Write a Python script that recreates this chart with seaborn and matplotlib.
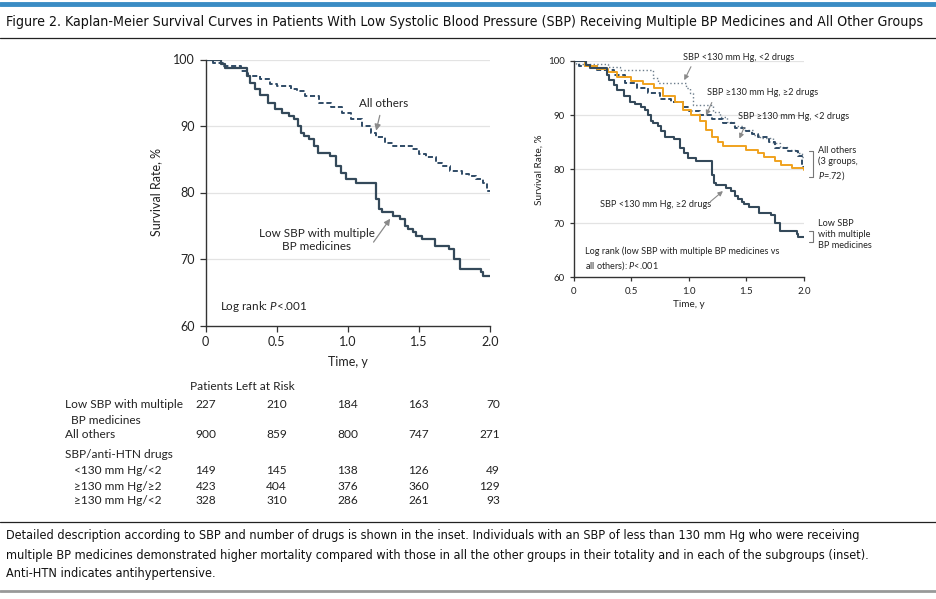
import numpy as np
import pandas as pd
import matplotlib
matplotlib.use("Agg")
import matplotlib.pyplot as plt
import seaborn as sns
from matplotlib.lines import Line2D

# ---------------- data ----------------
low_t = [0, 0.11, 0.14, 0.29, 0.31, 0.35, 0.38, 0.44, 0.49, 0.535, 0.59, 0.62, 0.65, 0.67, 0.69, 0.73, 0.76, 0.79,
         0.875, 0.92, 0.955, 0.99, 1.06, 1.19, 1.20, 1.22, 1.24, 1.32, 1.37, 1.40, 1.425, 1.46, 1.48, 1.52, 1.61,
         1.71, 1.75, 1.79, 1.94, 1.95, 2.0]
low_s = [100, 99.3, 98.7, 97.5, 96.5, 95.5, 94.7, 93.5, 92.5, 92.0, 91.5, 91.0, 90.0, 89.0, 88.5, 88.0, 87.0, 86.0,
         85.5, 84.0, 83.0, 82.0, 81.5, 81.5, 79.0, 77.5, 77.0, 76.5, 76.0, 75.0, 74.5, 74.0, 73.5, 73.0, 72.0,
         71.5, 70.0, 68.5, 68.0, 67.5, 67.5]

oth_t = [0, 0.05, 0.13, 0.25, 0.30, 0.38, 0.45, 0.50, 0.60, 0.64, 0.70, 0.80, 0.88, 0.96, 1.02, 1.10, 1.16, 1.20,
         1.26, 1.32, 1.45, 1.50, 1.55, 1.62, 1.66, 1.72, 1.80, 1.85, 1.90, 1.95, 1.98, 2.0]
oth_s = [100, 99.5, 99.0, 98.3, 97.5, 97.0, 96.3, 96.0, 95.5, 95.3, 94.5, 93.5, 92.8, 92.0, 91.0, 90.0, 89.0, 88.3,
         87.5, 87.0, 86.5, 85.8, 85.3, 84.5, 84.0, 83.3, 82.8, 82.5, 82.0, 81.5, 80.3, 80.3]

lt2_t = [0, 0.02, 0.30, 0.40, 0.69, 0.73, 0.95, 0.98, 1.01, 1.04, 1.18, 1.21, 1.27, 1.33, 1.39, 1.47, 1.56, 1.62,
         1.73, 1.79, 1.85, 1.94, 1.98, 2.0]
lt2_s = [100, 99.5, 98.8, 98.3, 96.8, 95.9, 95.9, 95.0, 94.0, 91.9, 91.9, 90.6, 89.7, 88.8, 87.9, 87.3, 86.3, 85.7,
         84.8, 84.2, 83.6, 83.0, 82.3, 82.3]

ge2_t = [0, 0.05, 0.20, 0.35, 0.45, 0.55, 0.65, 0.75, 0.85, 0.95, 1.00, 1.10, 1.20, 1.30, 1.40, 1.50, 1.55, 1.60,
         1.70, 1.75, 1.85, 1.95, 1.98, 2.0]
ge2_s = [100, 99.0, 98.3, 97.5, 96.0, 95.0, 94.0, 93.0, 92.5, 91.5, 90.7, 90.0, 89.3, 88.5, 87.7, 87.0, 86.5, 86.0,
         85.0, 84.0, 83.3, 82.5, 80.5, 80.5]

gel2_t = [0, 0.10, 0.20, 0.30, 0.38, 0.50, 0.60, 0.70, 0.78, 0.88, 0.95, 1.02, 1.10, 1.15, 1.20, 1.25, 1.30, 1.50,
          1.60, 1.65, 1.75, 1.80, 1.90, 2.0]
gel2_s = [100, 99.0, 98.5, 98.0, 97.0, 96.3, 95.7, 95.0, 93.5, 92.5, 91.0, 90.0, 89.0, 87.3, 86.0, 85.0, 84.3, 83.5,
          83.0, 82.3, 81.5, 80.7, 80.3, 79.8]

risk_times = [0, 0.5, 1.0, 1.5, 2.0]
risk_low = [227, 210, 184, 163, 70]
risk_oth = [900, 859, 800, 747, 271]
risk_lt130_lt2 = [149, 145, 138, 126, 49]
risk_ge130_ge2 = [423, 404, 376, 360, 129]
risk_ge130_lt2 = [328, 310, 286, 261, 93]

# ---------------- style ----------------
sns.set_theme(style="white")
plt.rcParams['font.family'] = ['Lato', 'DejaVu Sans']
plt.rcParams['mathtext.fontset'] = 'custom'
plt.rcParams['mathtext.rm'] = 'Lato'
plt.rcParams['mathtext.it'] = 'Lato:italic'

C_LOW = '#34495a'
C_OTH = '#2f4b66'
C_ORANGE = '#f0a21e'
C_DOT = '#6c7d8c'
C_GRID = '#e3e3e3'
C_TXT = '#222222'
C_ARROW = '#8a8a8a'

W, H = 936, 599
fig = plt.figure(figsize=(W / 100, H / 100), dpi=100)


def frect(l, r, t, b):
    return [l / W, 1 - b / H, (r - l) / W, (b - t) / H]


def fit_width(txt, target_px):
    fig.canvas.draw()
    w = txt.get_window_extent().width
    txt.set_fontsize(txt.get_fontsize() * target_px / w)


def km(ax, t, s, color, lw, ls, dashes=None):
    df = pd.DataFrame({'t': t, 's': s})
    sns.lineplot(data=df, x='t', y='s', ax=ax, color=color, lw=lw, estimator=None, sort=False,
                 linestyle=ls, drawstyle='steps-post')
    l = ax.lines[-1]
    if dashes is not None:
        l.set_dashes(dashes)
    return l


def style_axes(ax, fs_tick, fs_label):
    ax.set_xlim(0, 2.0)
    ax.set_ylim(60, 100)
    ax.set_xticks([0, 0.5, 1.0, 1.5, 2.0])
    ax.set_xticklabels(['0', '0.5', '1.0', '1.5', '2.0'])
    ax.set_yticks([60, 70, 80, 90, 100])
    for y in [70, 80, 90, 100]:
        ax.axhline(y, color=C_GRID, lw=0.9, zorder=0)
    for sp in ['top', 'right']:
        ax.spines[sp].set_visible(False)
    for sp in ['left', 'bottom']:
        ax.spines[sp].set_color('#333333')
        ax.spines[sp].set_linewidth(1.0)
    ax.tick_params(axis='both', which='both', direction='out', length=4, width=0.9, colors='#333333',
                   labelsize=fs_tick, labelcolor=C_TXT, left=True, bottom=True)
    ax.set_xlabel('Time, y', fontsize=fs_label, color=C_TXT)
    ax.set_ylabel('Survival Rate, %', fontsize=fs_label, color=C_TXT)
    ax.set_facecolor('none')


# ---------------- main axes ----------------
ax = fig.add_axes(frect(205.5, 490, 59.5, 325.5))
km(ax, oth_t, oth_s, C_OTH, 1.4, '--', dashes=(2.6, 1.4))
km(ax, low_t, low_s, C_LOW, 1.6, '-')
style_axes(ax, 9, 9)
ax.xaxis.labelpad = 6
ax.yaxis.labelpad = 8

fs_m = 8.4
ax.text(1.25, 93.4, 'All others', ha='center', va='center', fontsize=fs_m, color=C_TXT)
ax.annotate('', xy=(1.195, 88.9), xytext=(1.23, 92.0),
            arrowprops=dict(arrowstyle='-|>', color=C_ARROW, lw=0.9, mutation_scale=9))
ax.text(0.78, 72.9, 'Low SBP with multiple\nBP medicines', ha='center', va='center', fontsize=fs_m,
        color=C_TXT, linespacing=1.2)
ax.annotate('', xy=(1.31, 76.4), xytext=(1.17, 72.2),
            arrowprops=dict(arrowstyle='-|>', color=C_ARROW, lw=0.9, mutation_scale=9))
ax.text(0.105, 62.8, 'Log rank: $\\mathit{P}$<.001', ha='left', va='center', fontsize=fs_m, color=C_TXT)

# ---------------- inset axes ----------------
ai = fig.add_axes(frect(573.5, 804, 61, 277.5))
km(ai, lt2_t, lt2_s, C_DOT, 1.0, ':')
km(ai, ge2_t, ge2_s, C_OTH, 1.4, '--', dashes=(2.6, 1.4))
km(ai, gel2_t, gel2_s, C_ORANGE, 1.4, '-')
km(ai, low_t, low_s, C_LOW, 1.5, '-')
style_axes(ai, 7, 7.2)
ai.tick_params(length=3)
ai.xaxis.labelpad = 3
ai.yaxis.labelpad = 3

fs_i = 6.6
arr_i = dict(arrowstyle='-|>', color=C_ARROW, lw=0.8, mutation_scale=7)
ai.text(0.95, 100.6, 'SBP <130 mm Hg, <2 drugs', ha='left', va='center', fontsize=fs_i, color=C_TXT)
ai.annotate('', xy=(0.95, 96.0), xytext=(1.03, 99.4), arrowprops=arr_i)
ai.text(1.155, 94.2, 'SBP ≥130 mm Hg, ≥2 drugs', ha='left', va='center', fontsize=fs_i, color=C_TXT)
ai.annotate('', xy=(1.14, 89.5), xytext=(1.21, 92.8), arrowprops=arr_i)
ai.text(1.43, 89.7, 'SBP ≥130 mm Hg, <2 drugs', ha='left', va='center', fontsize=fs_i, color=C_TXT)
ai.annotate('', xy=(1.43, 85.2), xytext=(1.49, 88.2), arrowprops=arr_i)
ai.text(0.23, 73.4, 'SBP <130 mm Hg, ≥2 drugs', ha='left', va='center', fontsize=fs_i, color=C_TXT)
ai.annotate('', xy=(1.315, 76.3), xytext=(1.17, 73.7), arrowprops=arr_i)
ai.text(0.10, 63.4, 'Log rank (low SBP with multiple BP medicines vs\nall others): $\\mathit{P}$<.001',
        ha='left', va='center', fontsize=fs_i, color=C_TXT, linespacing=1.3)
ai.text(2.12, 81.0, 'All others\n(3 groups,\n$\\mathit{P}$=.72)', ha='left', va='center',
        fontsize=fs_i, color=C_TXT, linespacing=1.3)
ai.text(2.12, 67.9, 'Low SBP\nwith multiple\nBP medicines', ha='left', va='center',
        fontsize=fs_i, color=C_TXT, linespacing=1.3)
bk = dict(color='#777777', lw=0.8, clip_on=False)
ai.plot([2.045, 2.08, 2.08, 2.045], [83.3, 83.3, 78.6, 78.6], **bk)
ai.plot([2.045, 2.08, 2.08, 2.045], [68.6, 68.6, 66.6, 66.6], **bk)

# ---------------- risk table ----------------
fs_r = 8.6
fig.text(190 / W, 1 - 386 / H, 'Patients Left at Risk', ha='left', va='center', fontsize=fs_r, color=C_TXT)
rows = [
    ('Low SBP with multiple', 405, risk_low),
    ('  BP medicines', 420, None),
    ('All others', 434, risk_oth),
    ('SBP/anti-HTN drugs', 454, None),
    ('   <130 mm Hg/<2', 471, risk_lt130_lt2),
    ('   ≥130 mm Hg/≥2', 486, risk_ge130_ge2),
    ('   ≥130 mm Hg/<2', 501, risk_ge130_lt2),
]
col_x = [216 + 71 * (t / 0.5) for t in risk_times]
for label, y, vals in rows:
    fig.text(65 / W, 1 - y / H, label, ha='left', va='center', fontsize=fs_r, color=C_TXT)
    if vals is not None:
        for cx, v in zip(col_x, vals):
            fig.text(cx / W, 1 - y / H, str(v), ha='right', va='center', fontsize=fs_r, color=C_TXT)

# ---------------- frame: title, rules, caption ----------------
fig.add_artist(Line2D([0, 1], [1 - 3.5 / H, 1 - 3.5 / H], color='#3a8cc4', lw=3.5))
title = fig.text(6 / W, 1 - 22 / H,
                 'Figure 2. Kaplan-Meier Survival Curves in Patients With Low Systolic Blood Pressure (SBP) '
                 'Receiving Multiple BP Medicines and All Other Groups',
                 ha='left', va='center', fontsize=10.5, color='#111111', family=['DejaVu Sans'],
                 fontstretch='condensed')
fit_width(title, 918)
fig.add_artist(Line2D([0, 1], [1 - 38 / H, 1 - 38 / H], color='#222222', lw=0.9))
fig.add_artist(Line2D([0, 1], [1 - 522 / H, 1 - 522 / H], color='#222222', lw=0.9))
cap = ['Detailed description according to SBP and number of drugs is shown in the inset. Individuals with an SBP of less than 130 mm Hg who were receiving',
       'multiple BP medicines demonstrated higher mortality compared with those in all the other groups in their totality and in each of the subgroups (inset).',
       'Anti-HTN indicates antihypertensive.']
caps = []
for i, c in enumerate(cap):
    caps.append(fig.text(6 / W, 1 - (536 + 19 * i) / H, c, ha='left', va='center', fontsize=9.8,
                         color='#111111', family=['DejaVu Sans'], fontstretch='condensed'))
fit_width(caps[1], 867)
for c in caps:
    c.set_fontsize(caps[1].get_fontsize())
fig.add_artist(Line2D([0, 1], [1 - 591 / H, 1 - 591 / H], color='#999999', lw=2.0))

fig.savefig('out.png', dpi=100, facecolor='white')
